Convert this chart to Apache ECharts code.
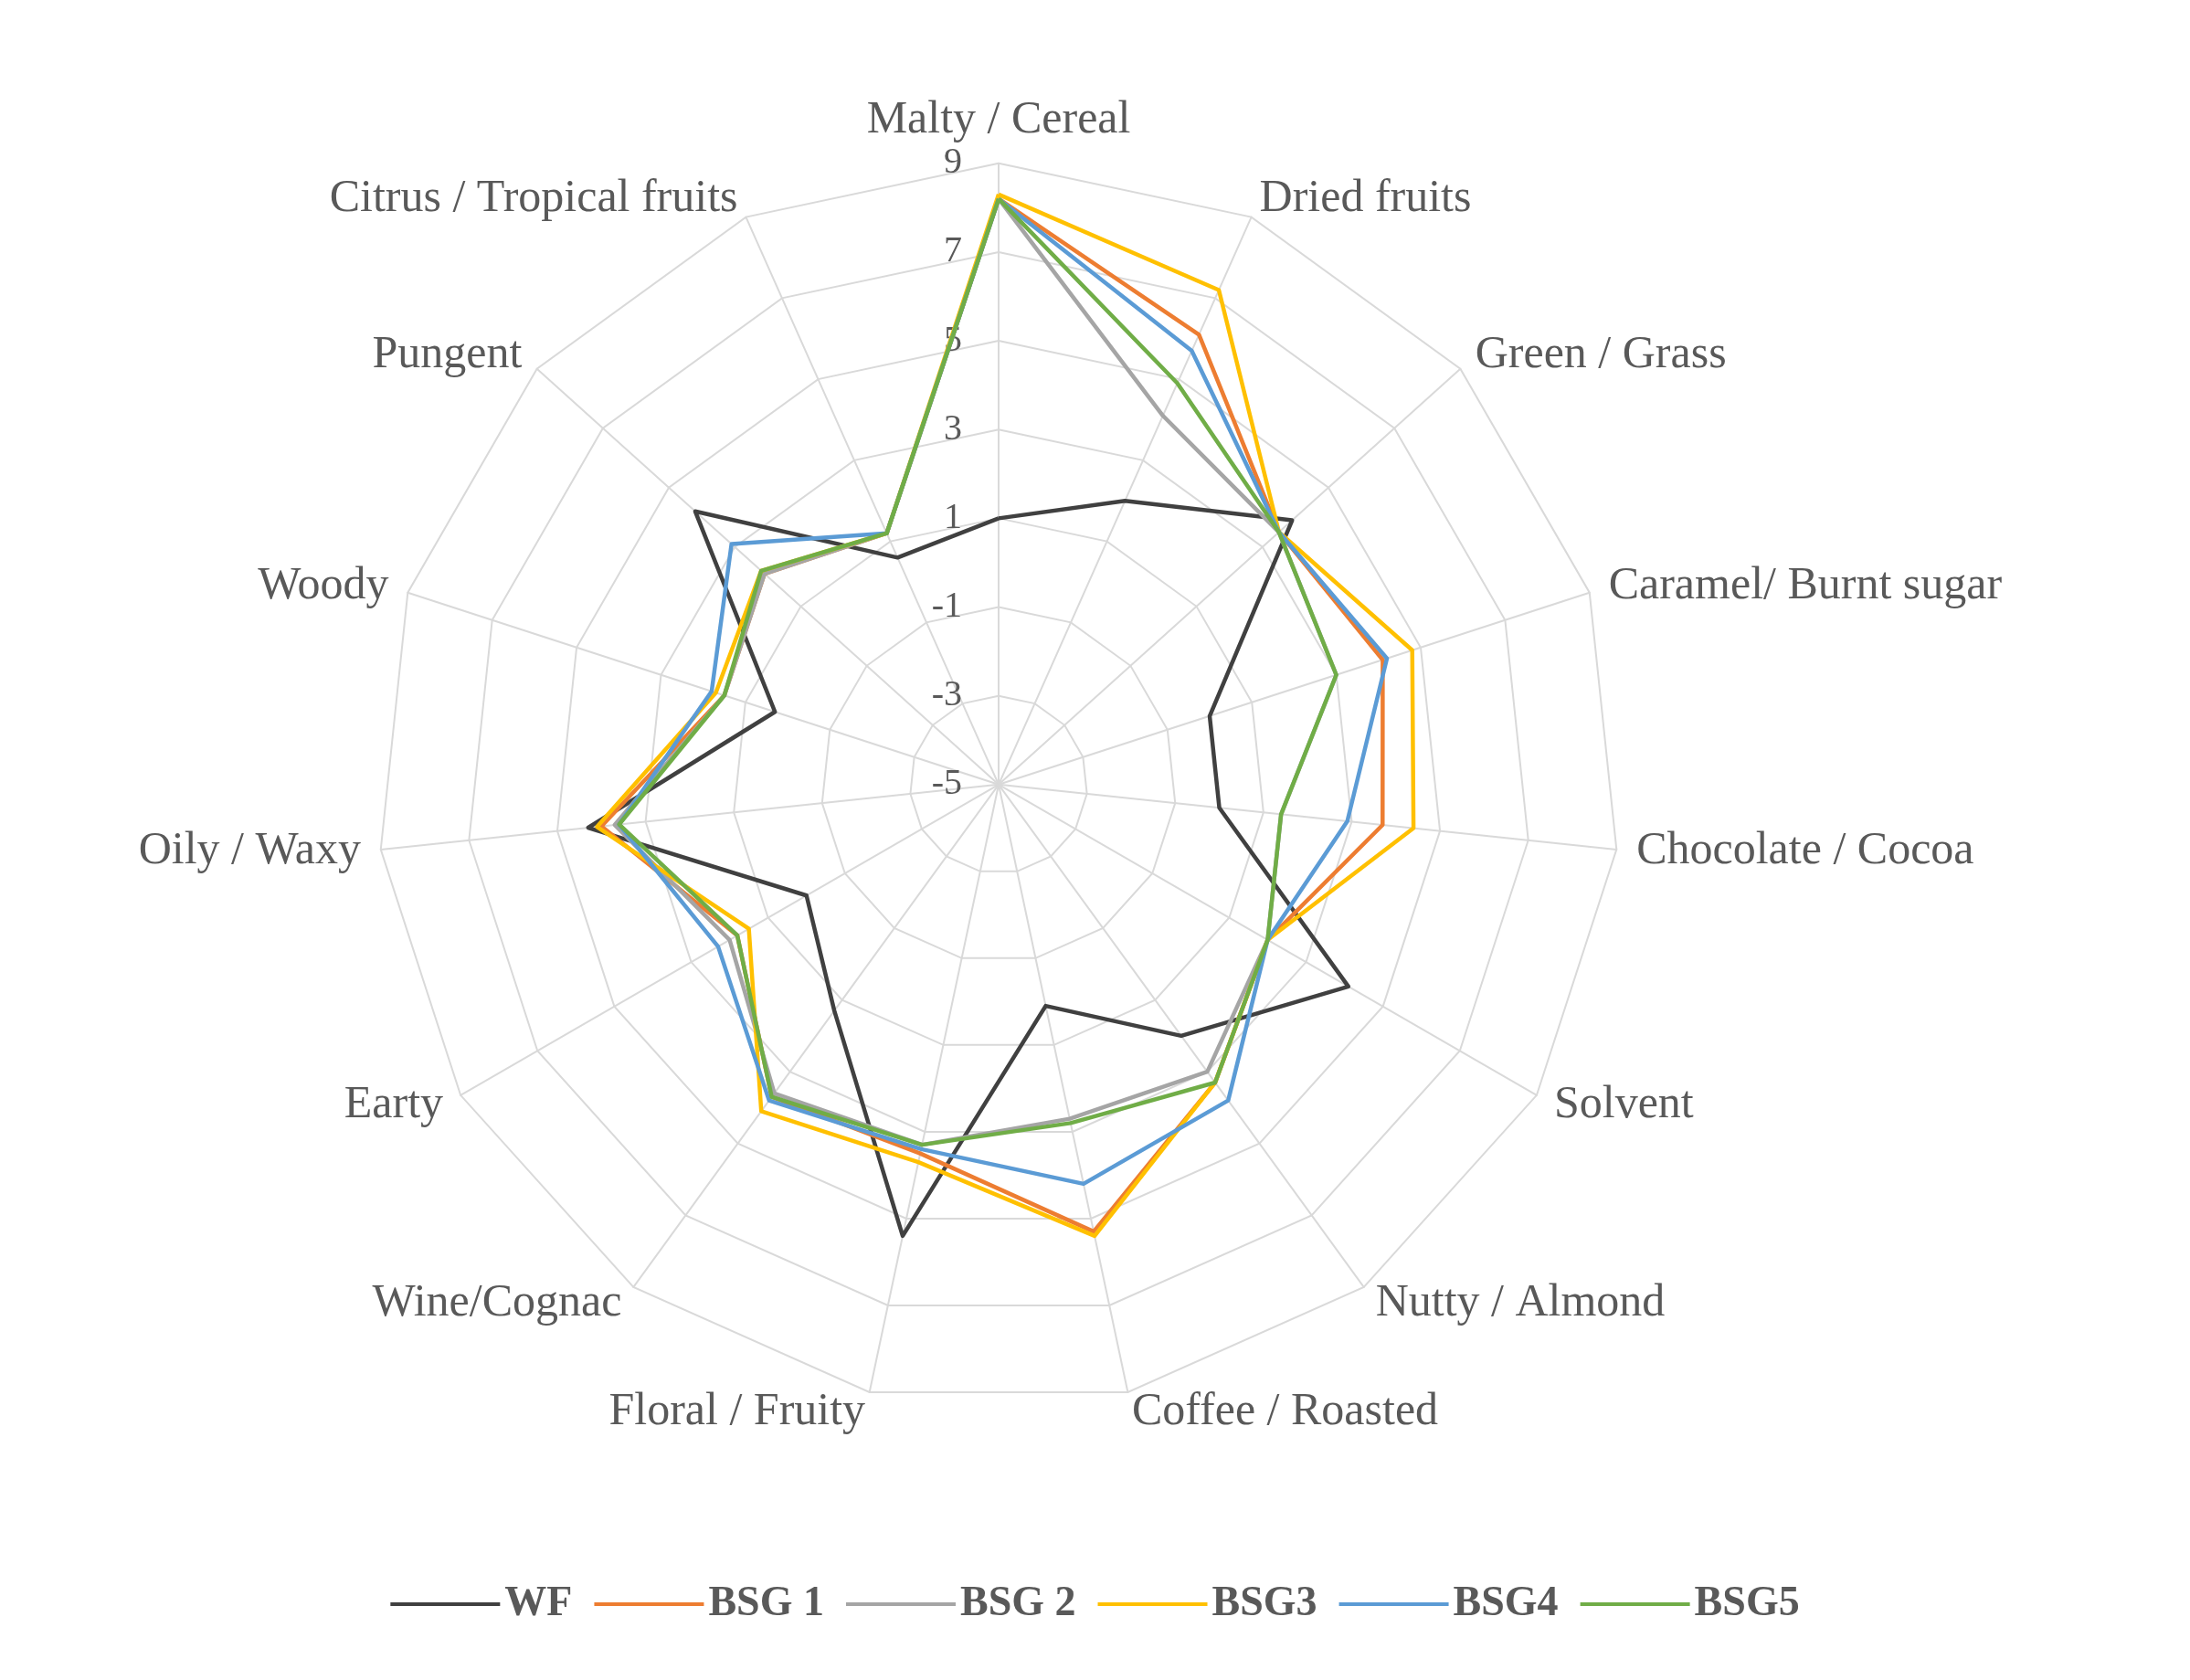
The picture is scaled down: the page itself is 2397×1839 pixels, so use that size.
<!DOCTYPE html>
<html><head><meta charset="utf-8">
<script src="https://cdn.jsdelivr.net/npm/echarts@6/dist/echarts.min.js"></script>
<style>html,body{margin:0;background:#fff}#main{width:2397px;height:1839px}</style>
</head><body><div id="main"></div>
<script>
var categories = ['Malty / Cereal', 'Dried fruits', 'Green / Grass', 'Caramel/ Burnt sugar', 'Chocolate / Cocoa',
  'Solvent', 'Nutty / Almond', 'Coffee / Roasted', 'Floral / Fruity', 'Wine/Cognac', 'Earty', 'Oily / Waxy',
  'Woody', 'Pungent', 'Citrus / Tropical fruits'];
var seriesNames = ['WF', 'BSG 1', 'BSG 2', 'BSG3', 'BSG4', 'BSG5'];
var wf   = [1.0, 2.0, 3.9, 0.0, 0.0, 4.1, 2.0, 0.1, 5.4, 1.3, 0.0, 4.3, 0.3, 4.2, 0.6];
var bsg1 = [8.2, 6.1, 3.5, 4.1, 3.7, 2.0, 3.3, 5.3, 3.5, 3.7, 1.8, 4.0, 1.5, 2.1, 1.2];
var bsg2 = [8.2, 4.1, 3.5, 3.0, 1.4, 2.0, 3.0, 2.7, 3.3, 3.6, 2.0, 3.7, 1.5, 2.1, 1.2];
var bsg3 = [8.3, 7.2, 3.5, 4.8, 4.4, 2.0, 3.3, 5.4, 3.7, 4.1, 1.5, 4.1, 1.7, 2.2, 1.2];
var bsg4 = [8.2, 5.7, 3.5, 4.2, 2.9, 2.0, 3.8, 4.2, 3.4, 3.8, 2.3, 3.6, 1.8, 3.1, 1.2];
var bsg5 = [8.2, 4.9, 3.5, 3.0, 1.4, 2.0, 3.3, 2.8, 3.3, 3.7, 1.8, 3.6, 1.5, 2.2, 1.2];
var colors = ['#404040', '#ED7D31', '#A5A5A5', '#FFC000', '#5B9BD5', '#70AD47'];
var axisMin = -5, axisMax = 9;

var font = 'Liberation Serif';
var center = ['45.6%', '46.7%'], radius = 680;
var allData = [wf, bsg1, bsg2, bsg3, bsg4, bsg5];

// radar runs counter-clockwise; keep the first axis on top and reverse the rest
function clockwise(arr) { return [arr[0]].concat(arr.slice(1).reverse()); }

var chart = echarts.init(document.getElementById('main'));
chart.setOption({
  color: colors,
  legend: {
    data: seriesNames, bottom: 55, left: 'center', itemWidth: 120, itemHeight: 4, itemGap: 24,
    icon: 'rect',
    textStyle: { fontFamily: font, fontSize: 46, fontWeight: 'bold', color: '#595959' }
  },
  radar: [{
    center: center, radius: radius, startAngle: 90, shape: 'polygon',
    splitNumber: 7,
    indicator: clockwise(categories).map(function (c) { return { name: c, min: axisMin, max: axisMax }; }),
    axisName: { color: '#595959', fontFamily: font, fontSize: 50 },
    nameGap: 22,
    splitLine: { lineStyle: { color: '#D9D9D9', width: 2 } },
    splitArea: { show: false },
    axisLine: { lineStyle: { color: '#D9D9D9', width: 2 } },
    axisTick: { show: false }
  }, {
    center: center, radius: radius, startAngle: 90, shape: 'polygon',
    splitNumber: 7,
    indicator: [{ name: '', min: axisMin, max: axisMax }],
    axisName: { show: false },
    splitLine: { show: false }, splitArea: { show: false },
    axisLine: { show: false }, axisTick: { show: false },
    axisLabel: { show: true, color: '#595959', fontFamily: font, fontSize: 40, margin: 40 }
  }],
  series: [{
    type: 'radar', radarIndex: 0, symbol: 'none',
    data: allData.map(function (d, i) {
      return { name: seriesNames[i], value: clockwise(d), lineStyle: { width: 4.5, color: colors[i] } };
    })
  }]
});
</script></body></html>
